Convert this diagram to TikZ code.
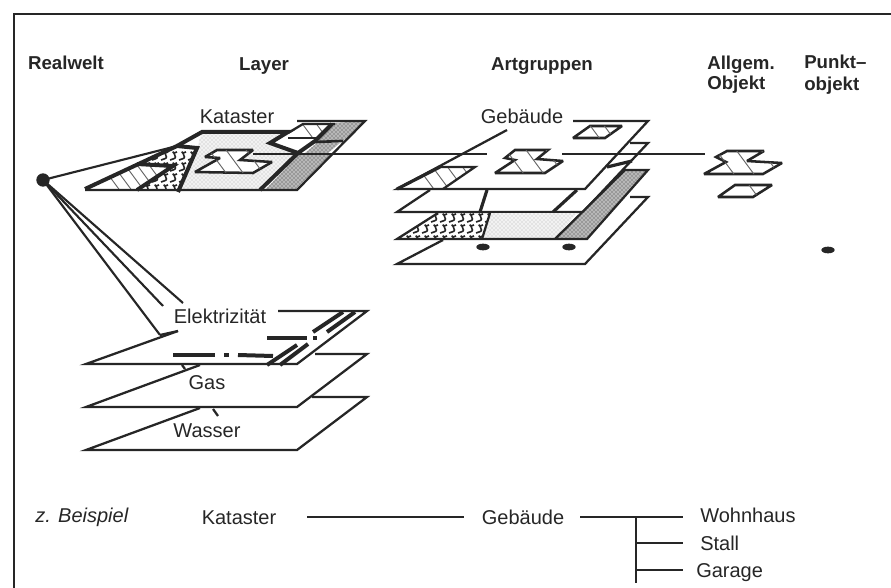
\documentclass[tikz,border=0pt]{standalone}
\usepackage{fontspec}
\setmainfont{Liberation Sans}
\usetikzlibrary{patterns,shapes.geometric}
\definecolor{ink}{HTML}{262626}
\tikzset{
  plate/.style={draw=ink,line width=1.7pt,line join=miter},
  heavy/.style={draw=ink,line width=3pt,line join=miter},
  thinline/.style={draw=ink,line width=1.6pt},
  hatchline/.style={draw=black!60,line width=0.7pt},
  outlined/.style={draw=ink,line width=1.9pt,line join=miter,miter limit=3,fill=white},
  lightdots/.style={fill=black!5,postaction={pattern=crosshatch dots,pattern color=black!30}},
  darkdots/.style={fill=black!28,postaction={pattern=crosshatch dots,pattern color=black!80}},
  every node/.style={text=ink,font=\fontsize{15}{17}\selectfont,inner sep=0pt,text height=11pt,text depth=0pt},
  head/.style={font=\fontsize{14}{16}\selectfont\bfseries},
  realdot/.style={circle,fill=ink,minimum size=10pt,text height=,text depth=},
  stud/.style={ellipse,fill=ink,minimum width=10pt,minimum height=5pt,text height=,text depth=}
}
\newcommand{\hatchfill}[3]{%
  \begin{scope}
  \clip #1 -- cycle;
  \foreach \x in {#2} \draw[hatchline] (\x,#3) -- +(34,46);
  \end{scope}}
\newcommand{\wavyfill}[4]{%
  \begin{scope}
  \clip #1 -- cycle;
  \foreach \y in {#4} \foreach \x in {#2,...,#3}
    \draw[ink,line width=1.2pt] (\x,\y) -- +(3,-1) .. controls +(7,-1) and +(-5,-5) .. +(4,-7) -- +(7,-8);
  \end{scope}}
\begin{document}
\begin{tikzpicture}[x=0.75pt,y=-0.75pt]
\useasboundingbox (0,0) rectangle (891,588);
\draw [ink,line width=1.9pt] (14,588) -- (14,14) -- (891,14);
\node [head] (realwelt) at (66,62.5) {Realwelt};
\node [head] (layer) at (264,63) {Layer};
\node [head] (artgruppen) at (542,63) {Artgruppen};
\node [head,anchor=west] (allgem) at (707,62) {Allgem.};
\node [head,anchor=west] (objekt) at (707,82.5) {Objekt};
\node [head,anchor=west] (punkt) at (804,61.5) {Punkt--};
\node [head,anchor=west] (punktobjekt) at (804,83) {objekt};
\node (kataster) at (237,116.5) {Kataster};
\node (gebaeude) at (522,116.5) {Gebäude};
\node (elektrizitaet) at (220,316) {Elektrizität};
\node (gas) at (207,382) {Gas};
\node (wasser) at (207,430) {Wasser};
\node [realdot] (welt) at (43,180) {};
\coordinate (katApex) at (177,146);
\coordinate (elekA) at (160,335);
\coordinate (elekB) at (163,306);
\coordinate (elekC) at (183,303);
\draw [thinline] (welt.center) -- (katApex);
\draw [thinline] (welt.center) -- (elekA);
\draw [thinline] (welt.center) -- (elekB);
\draw [thinline] (welt.center) -- (elekC);
% Kataster
\fill [lightdots] (197,148) -- (202,132) -- (287,132) -- (270,143) -- (298,153) -- (260,190) -- (178,190) -- cycle;
\fill [darkdots] (265,190) -- (298,155) -- (330,155) -- (295,190) -- cycle;
\fill [darkdots] (305,153) -- (317,143) -- (340,143) -- (328,153) -- cycle;
\fill [darkdots] (332,123) -- (365,121) -- (343,141) -- (315,141) -- cycle;
\wavyfill{(137,165) -- (177,146) -- (197,148) -- (178,190) -- (137,190)}{125,134}{195}{160,171,182,193}
\fill [white] (85,190) -- (133,165) -- (173,165) -- (137,190) -- cycle;
\hatchfill{(85,190) -- (133,165) -- (173,165) -- (137,190)}{90,102,114,126,138}{150}
\fill [white] (288,138) -- (303,124) -- (335,124) -- (316,138) -- cycle;
\hatchfill{(288,138) -- (303,124) -- (335,124) -- (316,138)}{298,312}{118}
\draw [outlined] (195,172) -- (220,158) -- (205,157) -- (217,150) -- (253,150) -- (240,160) -- (272,162) -- (253,173) -- cycle;
\hatchfill{(195,172) -- (220,158) -- (205,157) -- (217,150) -- (253,150) -- (240,160) -- (272,162) -- (253,173)}{198,215,235}{135}
\draw [heavy] (85,189) -- (177,146) -- (197,148) -- (178,192);
\draw [heavy] (137,164) -- (173,166) -- (137,190);
\draw [plate] (85,190) -- (297,190) -- (365,121) -- (297,121);
\draw [heavy] (177,146) -- (202,132) -- (288,132) -- (270,143) -- (298,153) -- (260,190);
\draw [heavy] (298,153) -- (315,141) -- (332,124);
\draw [heavy,line width=2pt] (315,142) -- (343,141);
\draw [plate] (288,133) -- (303,124) -- (335,124);
\draw [plate] (288,138) -- (316,138);
\coordinate (lineA) at (253,154);
\coordinate (lineB) at (487,154);
\coordinate (lineC) at (562,154);
\coordinate (lineD) at (705,154);
\draw [thinline] (lineA) -- (lineB);
\draw [thinline] (lineC) -- (lineD);
% Gebaeude
\fill [white] (397,189) -- (440,167) -- (475,167) -- (443,189) -- cycle;
\hatchfill{(397,189) -- (440,167) -- (475,167) -- (443,189)}{405,420,435,450}{150}
\draw [plate] (507,130) -- (397,189) -- (585,189) -- (648,121) -- (573,121);
\draw [heavy,line width=2.4pt] (397,189) -- (440,167);
\draw [plate] (440,167) -- (475,167) -- (443,189);
\draw [outlined] (573,138) -- (590,126) -- (622,126) -- (605,138) -- cycle;
\hatchfill{(573,138) -- (590,126) -- (622,126) -- (605,138)}{586,600}{120}
\draw [outlined] (495,173) -- (515,160) -- (505,158) -- (515,150) -- (548,150) -- (537,159) -- (563,161) -- (545,173) -- cycle;
\hatchfill{(495,173) -- (515,160) -- (505,158) -- (515,150) -- (548,150) -- (537,159) -- (563,161) -- (545,173)}{495,515,535}{135}
\draw [plate] (430,190) -- (397,212) -- (583,212);
\draw [plate] (630,143) -- (648,143) -- (583,212);
\draw [heavy,line width=2.4pt] (607,167) -- (632,161);
\draw [heavy,line width=2.4pt] (487,190) -- (480,212);
\draw [heavy,line width=2.4pt] (577,190) -- (553,212);
\fill [lightdots] (490,213) -- (577,213) -- (555,239) -- (482,239) -- cycle;
\fill [darkdots] (555,239) -- (625,171) -- (647,171) -- (587,239) -- cycle;
\wavyfill{(397,239) -- (438,213) -- (490,213) -- (482,239)}{395,404}{495}{222,233,244}
\draw [plate] (438,213) -- (397,239) -- (587,239) -- (648,170) -- (625,170) -- (555,239);
\draw [plate] (490,213) -- (482,239);
\draw [plate] (443,240) -- (397,264) -- (585,264) -- (648,197) -- (630,197);
\node [stud] (studA) at (483,247) {};
\node [stud] (studB) at (569,247) {};
% Objekte
\draw [outlined] (704,174) -- (726,162) -- (716,157) -- (727,151) -- (764,151) -- (747,161) -- (782,163) -- (763,174) -- cycle;
\hatchfill{(704,174) -- (726,162) -- (716,157) -- (727,151) -- (764,151) -- (747,161) -- (782,163) -- (763,174)}{705,725,750}{135}
\draw [outlined] (718,197) -- (735,185) -- (772,185) -- (753,197) -- cycle;
\hatchfill{(718,197) -- (735,185) -- (772,185) -- (753,197)}{738}{170}
\node [stud] (punktstud) at (828,250) {};
% Leitungen
\draw [plate] (elekA) -- (178,331);
\draw [plate] (178,331) -- (86,364) -- (297,364) -- (367,311) -- (278,311);
\draw [heavy] (173,355) -- (215,355);
\draw [heavy] (224,355) -- (229,355);
\draw [heavy] (238,355) -- (273,356);
\draw [heavy] (267,365) -- (297,345);
\draw [heavy] (280,365) -- (308,344);
\draw [heavy] (267,338) -- (307,338);
\draw [heavy] (313,338) -- (317,338);
\draw [heavy] (313,332) -- (343,312);
\draw [heavy] (327,332) -- (355,312);
\draw [plate] (200,365) -- (86,407) -- (297,407) -- (367,354) -- (315,354);
\draw [plate] (182,365) -- (185,369);
\draw [plate] (200,408) -- (86,450) -- (297,450) -- (367,397) -- (312,397);
\draw [plate] (213,409) -- (218,416);
% Beispiel
\node [anchor=west,font=\fontsize{15}{17}\selectfont\itshape] (beispiel) at (35,515) {z. Beispiel};
\node (katB) at (239,517) {Kataster};
\node (gebB) at (523,517) {Gebäude};
\node [anchor=west] (wohnhaus) at (700,515) {Wohnhaus};
\node [anchor=west] (stall) at (700,543) {Stall};
\node [anchor=west] (garage) at (696,570) {Garage};
\coordinate (treeTop) at (636,517);
\coordinate (treeStall) at (636,543);
\coordinate (treeGarage) at (636,570);
\coordinate (treeEnd) at (636,583);
\draw [thinline,shorten <=23pt,shorten >=13pt] (katB.east) -- (gebB.west);
\draw [thinline,shorten <=12pt] (gebB.east) -- (683,517);
\draw [thinline] (treeTop) -- (treeEnd);
\draw [thinline,shorten >=12.75pt] (treeStall) -- (stall.west);
\draw [thinline,shorten >=9.75pt] (treeGarage) -- (garage.west);
\end{tikzpicture}
\end{document}
